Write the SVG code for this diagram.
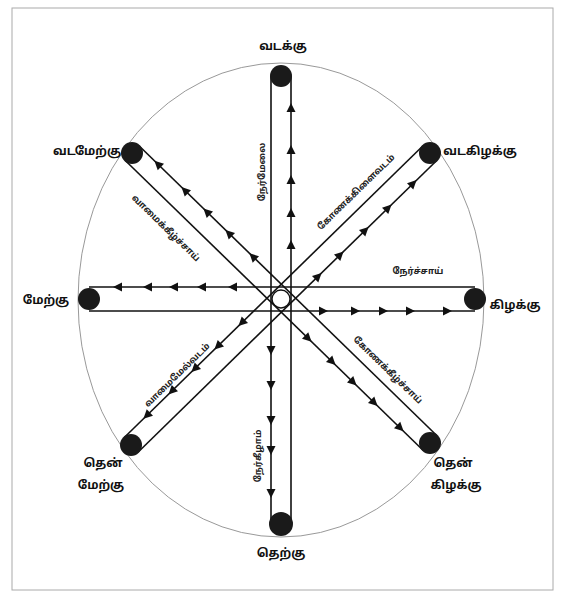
<svg xmlns="http://www.w3.org/2000/svg" width="563" height="600" viewBox="0 0 563 600">
<style>
.ln{stroke:#111;stroke-width:1.6;fill:none}
.dot{fill:#1a1a1a}
.dir{font-family:"Noto Sans Tamil","Noto Sans","Liberation Sans",sans-serif;font-size:12px;font-weight:bold;fill:#111;text-anchor:middle}
.lab{font-family:"Noto Sans Tamil","Noto Sans","Liberation Sans",sans-serif;font-size:9px;font-weight:bold;fill:#222;text-anchor:middle}
.ah{fill:#111}
</style>
<defs>
<path id="ah" d="M5,0 L-4,-4.5 L-4,4.5 Z"/>
</defs>
<rect x="0" y="0" width="563" height="600" fill="#fff"/>
<rect x="12" y="8" width="541" height="582" fill="none" stroke="#aaa" stroke-width="1"/>
<ellipse cx="281" cy="300" rx="203" ry="237" fill="none" stroke="#999" stroke-width="1"/>
<g id="connectors">
<line class="ln" x1="271" y1="76" x2="271" y2="524"/>
<line class="ln" x1="291" y1="76" x2="291" y2="524"/>
<line class="ln" x1="89" y1="287" x2="475" y2="287"/>
<line class="ln" x1="89" y1="311" x2="475" y2="311"/>
<line class="ln" x1="139" y1="145.8" x2="437" y2="435.8"/>
<line class="ln" x1="125" y1="160.2" x2="423" y2="450.2"/>
<line class="ln" x1="437" y1="160.2" x2="138" y2="452.2"/>
<line class="ln" x1="423" y1="145.8" x2="124" y2="437.8"/>
<circle cx="281" cy="299" r="9" fill="none" stroke="#111" stroke-width="1.4"/>
<g class="ah">
<use href="#ah" transform="translate(291,108) rotate(-90)"/>
<use href="#ah" transform="translate(291,150) rotate(-90)"/>
<use href="#ah" transform="translate(291,180) rotate(-90)"/>
<use href="#ah" transform="translate(291,213) rotate(-90)"/>
<use href="#ah" transform="translate(291,245) rotate(-90)"/>
<use href="#ah" transform="translate(271,350) rotate(90)"/>
<use href="#ah" transform="translate(271,385) rotate(90)"/>
<use href="#ah" transform="translate(271,420) rotate(90)"/>
<use href="#ah" transform="translate(271,450) rotate(90)"/>
<use href="#ah" transform="translate(271,493) rotate(90)"/>
<use href="#ah" transform="translate(118,287) rotate(180)"/>
<use href="#ah" transform="translate(148,287) rotate(180)"/>
<use href="#ah" transform="translate(174,287) rotate(180)"/>
<use href="#ah" transform="translate(202,287) rotate(180)"/>
<use href="#ah" transform="translate(233,287) rotate(180)"/>
<use href="#ah" transform="translate(323,311)"/>
<use href="#ah" transform="translate(355,311)"/>
<use href="#ah" transform="translate(383,311)"/>
<use href="#ah" transform="translate(410,311)"/>
<use href="#ah" transform="translate(447,311)"/>
<use href="#ah" transform="translate(158,164.3) rotate(-135.8)"/>
<use href="#ah" transform="translate(185,190.6) rotate(-135.8)"/>
<use href="#ah" transform="translate(207,212) rotate(-135.8)"/>
<use href="#ah" transform="translate(229,233.4) rotate(-135.8)"/>
<use href="#ah" transform="translate(253,256.7) rotate(-135.8)"/>
<use href="#ah" transform="translate(308,338.3) rotate(44.2)"/>
<use href="#ah" transform="translate(332,361.6) rotate(44.2)"/>
<use href="#ah" transform="translate(353,382) rotate(44.2)"/>
<use href="#ah" transform="translate(374,402.5) rotate(44.2)"/>
<use href="#ah" transform="translate(400,427.8) rotate(44.2)"/>
<use href="#ah" transform="translate(318,276.4) rotate(-44.3)"/>
<use href="#ah" transform="translate(340,254.9) rotate(-44.3)"/>
<use href="#ah" transform="translate(365,230.5) rotate(-44.3)"/>
<use href="#ah" transform="translate(388,208.1) rotate(-44.3)"/>
<use href="#ah" transform="translate(413,183.6) rotate(-44.3)"/>
<use href="#ah" transform="translate(242,322.6) rotate(135.7)"/>
<use href="#ah" transform="translate(218,346) rotate(135.7)"/>
<use href="#ah" transform="translate(195,368.5) rotate(135.7)"/>
<use href="#ah" transform="translate(172,390.9) rotate(135.7)"/>
<use href="#ah" transform="translate(147,415.3) rotate(135.7)"/>
</g>
<text class="lab" transform="translate(262,172) rotate(-90)" dy="3">நேர்மேலை</text>
<text class="lab" transform="translate(258,456) rotate(-90)" dy="3">நேர்கீழாம்</text>
<text class="lab" x="418" y="274">நேர்ச்சாய்</text>
<text class="lab" transform="translate(356,192) rotate(-44.3)" dy="3">கோணக்கிளைவடம்</text>
<text class="lab" transform="translate(388,370) rotate(44.2)" dy="3">கோணக்கீழ்ச்சாய்</text>
<text class="lab" transform="translate(166,228) rotate(44.2)" dy="3">வாமைக்கீழ்ச்சாய்</text>
<text class="lab" transform="translate(177,375) rotate(-44.3)" dy="3">வாமைமேல்வடம்</text>
</g>
<g id="n-north"><circle class="dot" cx="281" cy="76" r="11"/><text class="dir" x="283" y="50">வடக்கு</text></g>
<g id="n-northwest"><circle class="dot" cx="132" cy="153" r="11"/><text class="dir" x="87" y="155">வடமேற்கு</text></g>
<g id="n-northeast"><circle class="dot" cx="430" cy="153" r="11"/><text class="dir" x="480" y="155">வடகிழக்கு</text></g>
<g id="n-west"><circle class="dot" cx="89" cy="299" r="11"/><text class="dir" x="46" y="304">மேற்கு</text></g>
<g id="n-east"><circle class="dot" cx="475" cy="299" r="11"/><text class="dir" x="515" y="309">கிழக்கு</text></g>
<g id="n-southwest"><circle class="dot" cx="131" cy="445" r="11"/><text class="dir" x="103" y="467">தென்</text><text class="dir" x="101" y="489">மேற்கு</text></g>
<g id="n-southeast"><circle class="dot" cx="430" cy="443" r="11"/><text class="dir" x="453" y="467">தென்</text><text class="dir" x="456" y="489">கிழக்கு</text></g>
<g id="n-south"><circle class="dot" cx="281" cy="524" r="12"/><text class="dir" x="281" y="557">தெற்கு</text></g>
</svg>
